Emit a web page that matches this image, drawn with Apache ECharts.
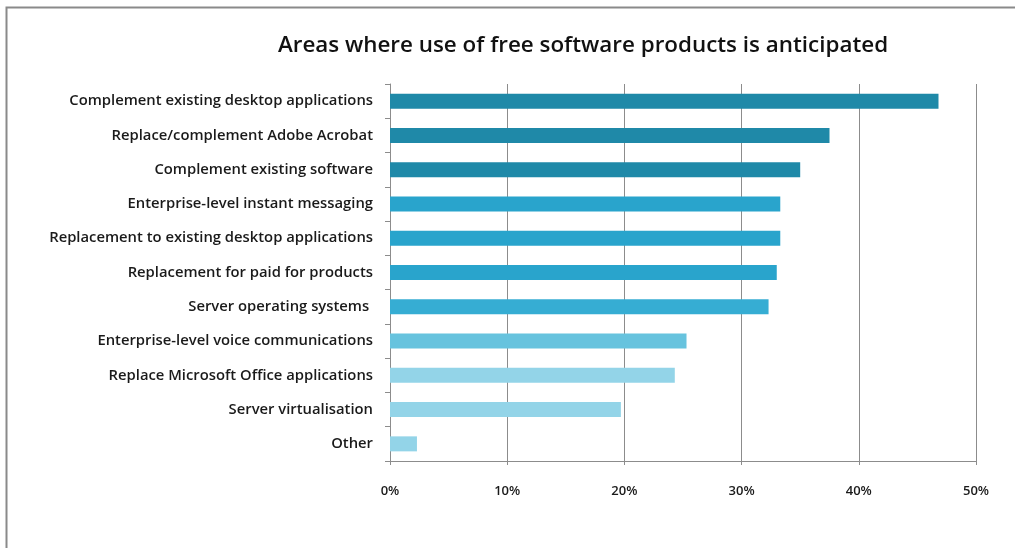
<!DOCTYPE html>
<html>
<head>
<meta charset="utf-8">
<script src="https://cdn.jsdelivr.net/npm/echarts@6/dist/echarts.min.js"></script>
<style>
  html, body { margin: 0; padding: 0; background: #ffffff; }
  #chart { width: 1015px; height: 548px; }
</style>
</head>
<body>
<div id="chart"></div>
<script>
// Survey areas, listed top to bottom
const categories = [
  'Complement existing desktop applications',
  'Replace/complement Adobe Acrobat',
  'Complement existing software',
  'Enterprise-level instant messaging',
  'Replacement to existing desktop applications',
  'Replacement for paid for products',
  'Server operating systems ',
  'Enterprise-level voice communications',
  'Replace Microsoft Office applications',
  'Server virtualisation',
  'Other'
];
// Share of respondents (%)
const shares = [46.8, 37.5, 35.0, 33.3, 33.3, 33.0, 32.3, 25.3, 24.3, 19.7, 2.3];
// Bar fill per category
const barColors = [
  '#1f89a8', '#1f89a8', '#1f89a8',
  '#29a4cc', '#29a4cc', '#29a4cc',
  '#36add3', '#67c3de',
  '#93d4e8', '#93d4e8', '#93d4e8'
];
const xTicks = [0, 10, 20, 30, 40, 50];

const chart = echarts.init(document.getElementById('chart'), null, { renderer: 'canvas' });
const fontFamily = '"Open Sans", Lato, sans-serif';

chart.setOption({
  backgroundColor: '#ffffff',
  animation: false,
  graphic: [{
    type: 'rect',
    shape: { x: 6.5, y: 7.5, width: 1100, height: 600 },
    style: { fill: 'none', stroke: '#8a8a8a', lineWidth: 2 },
    silent: true
  }],
  title: {
    text: 'Areas where use of free software products is anticipated',
    left: 578,
    textAlign: 'center',
    top: 30,
    textStyle: { fontFamily, fontSize: 22.4, fontWeight: 600, color: '#111111' }
  },
  grid: { left: 390, right: 39, top: 84, bottom: 87, containLabel: false },
  xAxis: {
    type: 'value',
    min: xTicks[0],
    max: xTicks[xTicks.length - 1],
    interval: 10,
    axisLine: { show: true, lineStyle: { color: '#8c8c8c', width: 1 } },
    axisTick: { show: true, length: 4, lineStyle: { color: '#8c8c8c' } },
    splitLine: { show: true, lineStyle: { color: '#8c8c8c', width: 1 } },
    axisLabel: {
      formatter: v => v + '%',
      margin: 24,
      fontFamily, fontSize: 13, fontWeight: 600, color: '#1a1a1a'
    }
  },
  yAxis: {
    type: 'category',
    inverse: true,
    data: categories,
    axisLine: { show: true, lineStyle: { color: '#8c8c8c', width: 1 } },
    axisTick: { show: true, length: 5, lineStyle: { color: '#8c8c8c' } },
    axisLabel: {
      margin: 17,
      fontFamily, fontSize: 14.8, fontWeight: 600, color: '#1a1a1a'
    }
  },
  series: [{
    type: 'bar',
    data: shares.map((v, i) => ({ value: v, itemStyle: { color: barColors[i] } })),
    barWidth: 15
  }]
});
</script>
</body>
</html>
